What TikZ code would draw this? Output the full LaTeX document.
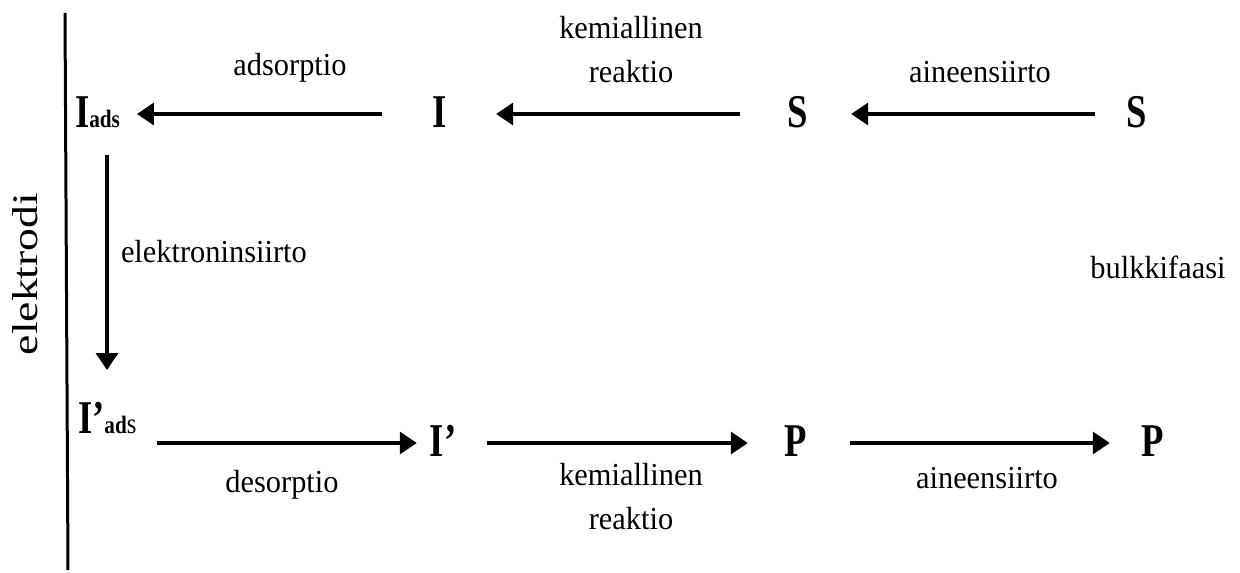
\documentclass[tikz,border=0pt]{standalone}
\usepackage{fontspec}
\setmainfont{Liberation Serif}
\newfontfamily\labfont{Liberation Serif}[FakeStretch=0.95]
\newfontfamily\bigfont{Liberation Serif}[FakeStretch=0.78]
\newfontfamily\subfont{Liberation Serif}[FakeStretch=0.85]
\usetikzlibrary{arrows.meta}
\newcommand\mybig[1]{{\bigfont\bfseries\fontsize{47}{50}\selectfont #1}}
\newcommand\mysub[1]{{\subfont\bfseries\fontsize{25}{28}\selectfont #1}}
\newcommand\mysubreg[1]{{\subfont\fontsize{29}{30}\selectfont #1}}
\begin{document}
\begin{tikzpicture}[x=1pt,y=-1pt,
  species/.style={inner sep=0pt,outer sep=0pt,text height=26pt,text depth=0pt},
  lbl/.style={inner sep=0pt,outer sep=0pt,font=\labfont\fontsize{32}{44}\selectfont,align=center},
  arr/.style={line width=3.5pt,-{Triangle[length=17pt,width=22pt]}}]
\useasboundingbox (0,0) rectangle (1240,573);
% electrode
\draw[line width=3pt] (65,13) -- (68,570);
\node[rotate=90,anchor=base,inner sep=0pt] (elek) at (37,274)
  {\scalebox{1.27}[1]{\fontsize{36}{40}\selectfont elektrodi}};
% top row
\node[species,anchor=west] (iads) at (75,114) {\mybig{I}\mysub{ads}};
\node[species] (i) at (440,114) {\mybig{I}};
\node[species] (s1) at (798,114) {\mybig{S}};
\node[species] (s2) at (1137,114) {\mybig{S}};
% bottom row
\node[species,anchor=west,text height=0pt,text depth=20pt] (ipads) at (78,443) {\mybig{I’}\mysub{ad}\mysubreg{s}};
\node[species] (ip) at (443,443) {\mybig{I’}};
\node[species] (p1) at (796,443) {\mybig{P}};
\node[species] (p2) at (1153,443) {\mybig{P}};
% arrows
\draw[arr] ([xshift=-51pt]i.west) -- ([xshift=17pt]iads.east);
\draw[arr] ([xshift=-48pt]s1.west) -- ([xshift=49pt]i.east);
\draw[arr] ([xshift=-32pt]s2.west) -- ([xshift=43pt]s1.east);
\draw[arr] ([xshift=32pt,yshift=-28pt]iads.south west) -- ([xshift=29pt,yshift=63pt]ipads.north west);
\draw[arr] ([xshift=20pt]ipads.east) -- ([xshift=-13pt]ip.west);
\draw[arr] ([xshift=31pt]ip.east) -- ([xshift=-37pt]p1.west);
\draw[arr] ([xshift=43pt]p1.east) -- ([xshift=-32pt]p2.west);
% labels
\node[lbl,anchor=base] (l1) at (290,75) {adsorptio};
\node[lbl] (l2) at (631,50) {kemiallinen\\reaktio};
\node[lbl,anchor=base] (l3) at (980,82) {aineensiirto};
\node[lbl,anchor=base west] (l4) at (121,262) {elektroninsiirto};
\node[lbl,anchor=base] (l5) at (1158,278) {bulkkifaasi};
\node[lbl,anchor=base] (l6) at (282,492) {desorptio};
\node[lbl] (l7) at (631,497) {kemiallinen\\reaktio};
\node[lbl,anchor=base] (l8) at (987,488) {aineensiirto};
\end{tikzpicture}
\end{document}
